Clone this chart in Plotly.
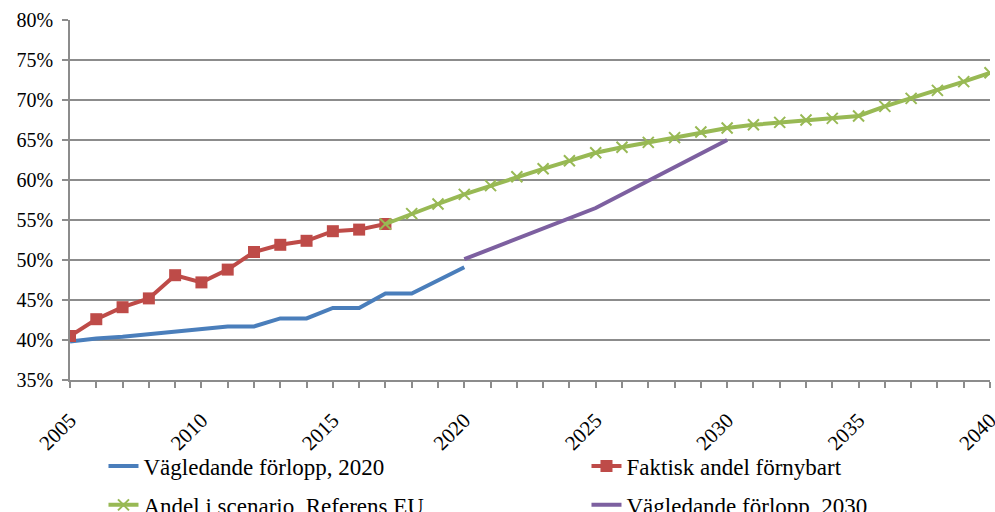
import plotly.graph_objects as go

years_2020 = list(range(2005, 2021))
vagl_2020 = [39.8, 40.2, 40.4, 40.7, 41.0, 41.4, 41.7, 41.7, 42.7, 42.7, 44.0, 44.0, 45.8, 45.8, 47.4, 49.1]

years_fakt = list(range(2005, 2018))
faktisk = [40.5, 42.6, 44.1, 45.2, 48.1, 47.2, 48.8, 51.0, 51.9, 52.4, 53.6, 53.8, 54.5]

years_ref = list(range(2017, 2041))
referens = [54.5, 55.8, 57.0, 58.2, 59.3, 60.4, 61.4, 62.4, 63.4, 64.1, 64.7, 65.3, 66.0, 66.5,
            66.9, 67.2, 67.5, 67.7, 68.0, 69.2, 70.2, 71.2, 72.3, 73.4]

years_2030 = [2020, 2025, 2030]
vagl_2030 = [50.1, 56.5, 65.0]

y_ticks = [35, 40, 45, 50, 55, 60, 65, 70, 75, 80]
y_labels = [f"{v}%" for v in y_ticks]
x_ticks = [2005, 2010, 2015, 2020, 2025, 2030, 2035, 2040]
x_labels = [str(v) for v in x_ticks]

FONT = "Liberation Serif"
BLUE = "#4A7EBB"
RED = "#BE4B48"
GREEN = "#98B954"
PURPLE = "#7D60A0"
GRID = "#8C8C8C"

fig = go.Figure()
fig.add_trace(go.Scatter(x=years_2020, y=vagl_2020, mode="lines", name="Vägledande förlopp, 2020",
                         line=dict(color=BLUE, width=4), legend="legend", showlegend=True))
fig.add_trace(go.Scatter(x=years_fakt, y=faktisk, mode="lines+markers", name="Faktisk andel förnybart",
                         line=dict(color=RED, width=4),
                         marker=dict(symbol="square", size=12, color=RED), legend="legend2",
                         showlegend=True))
fig.add_trace(go.Scatter(x=years_ref, y=referens, mode="lines+markers", name="Andel i scenario, Referens EU",
                         line=dict(color=GREEN, width=4),
                         marker=dict(symbol="x-thin", size=11, color=GREEN,
                                     line=dict(color=GREEN, width=2)), legend="legend3",
                         showlegend=True))
fig.add_trace(go.Scatter(x=years_2030, y=vagl_2030, mode="lines", name="Vägledande förlopp, 2030",
                         line=dict(color=PURPLE, width=4), legend="legend4", showlegend=True))

legend_common = dict(orientation="h", xref="paper", yref="paper", xanchor="left",
                     yanchor="middle", font=dict(family=FONT, size=23, color="black"),
                     bgcolor="rgba(0,0,0,0)", visible=True)

col1, col2 = 0.0364, 0.5614
row1, row2 = -0.239, -0.347

fig.update_layout(
    width=995, height=512,
    showlegend=True,
    margin=dict(l=70, r=5, t=20, b=132, autoexpand=False),
    paper_bgcolor="white", plot_bgcolor="white",
    font=dict(family=FONT, size=20, color="black"),
    xaxis=dict(range=[2005, 2040], tickvals=x_ticks, ticktext=x_labels,
               tickangle=-45, ticks="outside", ticklen=6, tickcolor=GRID, tickwidth=1.5,
               showline=True, linecolor=GRID, linewidth=1.5, showgrid=False, zeroline=False,
               ticklabeloverflow="allow", ticklabelstandoff=12,
               minor=dict(tickvals=list(range(2005, 2041)), ticks="outside", ticklen=6,
                          tickcolor=GRID, tickwidth=1.5, showgrid=False),
               tickfont=dict(family=FONT, size=21, color="black")),
    yaxis=dict(range=[35, 80], tickvals=y_ticks, ticktext=y_labels, ticks="outside", ticklen=6,
               tickcolor=GRID, tickwidth=1.5, showline=True, linecolor=GRID, linewidth=1.5,
               showgrid=True, gridcolor=GRID, gridwidth=1.5, zeroline=False,
               ticklabelstandoff=5,
               tickfont=dict(family=FONT, size=20, color="black")),
    legend=dict(x=col1, y=row1, **legend_common),
    legend2=dict(x=col2, y=row1, **legend_common),
    legend3=dict(x=col1, y=row2, **legend_common),
    legend4=dict(x=col2, y=row2, **legend_common),
)

fig.write_html("out.html", config={"displayModeBar": False},
               post_script="document.body.style.margin='0px';")
